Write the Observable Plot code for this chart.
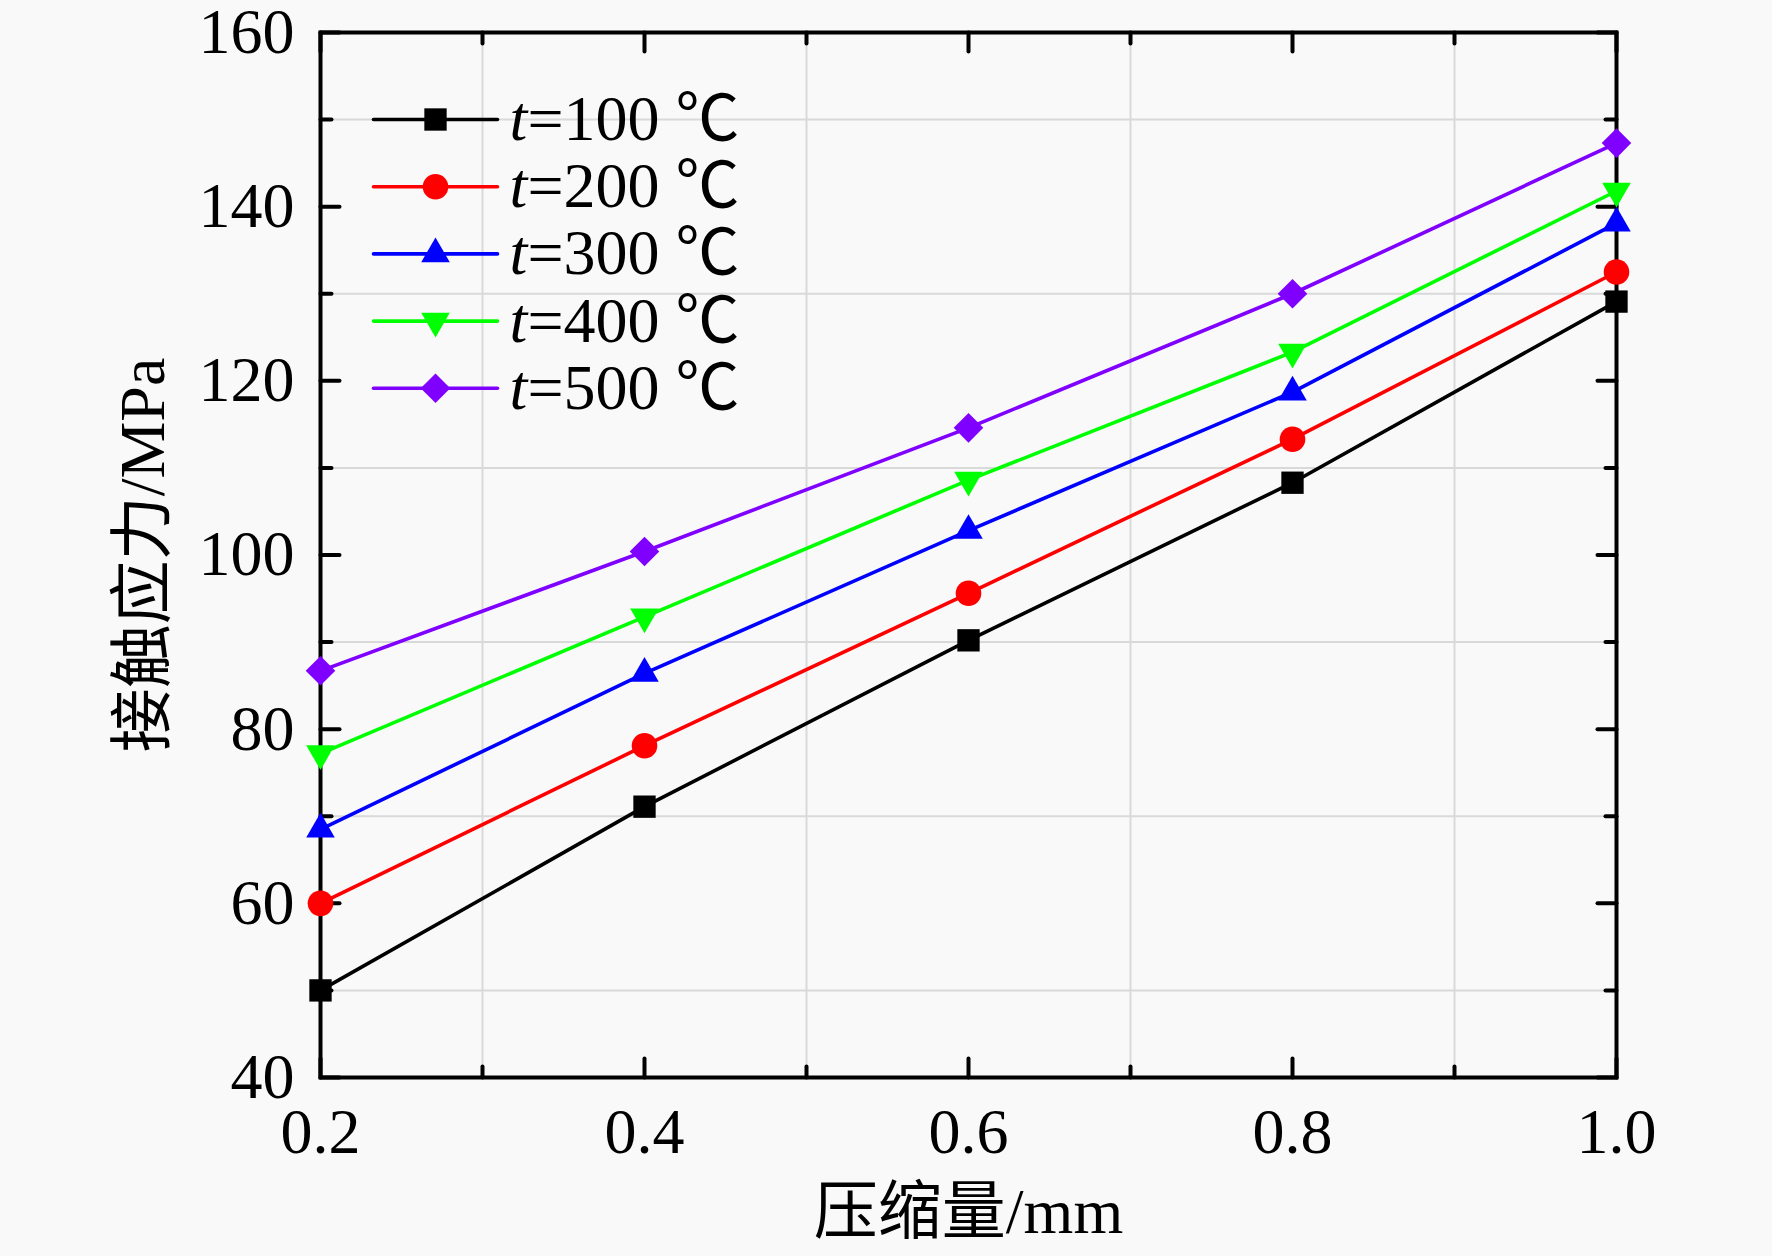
<!DOCTYPE html>
<html>
<head>
<meta charset="utf-8">
<script src="https://cdn.jsdelivr.net/npm/d3@7"></script>
<script src="https://cdn.jsdelivr.net/npm/@observablehq/plot@0.6"></script>
<style>
  html, body { margin: 0; padding: 0; background: #f9f9f9; }
  #chart svg { display: block; }
</style>
</head>
<body>
<div id="chart"></div>
<script>
// ---- data ----
const compression = [0.2, 0.4, 0.6, 0.8, 1.0];           // 压缩量/mm
const temperatures = [100, 200, 300, 400, 500];          // t (℃)
const stress100 = [50.0, 71.1, 90.2, 108.3, 129.1];
const stress200 = [60.0, 78.1, 95.6, 113.3, 132.5];
const stress300 = [68.5, 86.4, 102.8, 118.7, 138.1];
const stress400 = [77.2, 92.9, 108.6, 123.3, 141.8];
const stress500 = [86.7, 100.4, 114.6, 130.0, 147.3];
const seriesValues = [stress100, stress200, stress300, stress400, stress500];
const xMajorTicks = [0.2, 0.4, 0.6, 0.8, 1.0];
const xMinorTicks = [0.3, 0.5, 0.7, 0.9];
const yMajorTicks = [40, 60, 80, 100, 120, 140, 160];
const yMinorTicks = [50, 70, 90, 110, 130, 150];
const xTitle = "压缩量/mm";
const yTitle = "接触应力/MPa";

// ---- styles ----
const colors = ["#000000", "#ff0000", "#0000ff", "#00ff00", "#8000ff"];
const symbols = ["square", "circle", "triangle", "triangle", "square"];
const rotations = [0, 0, 0, 180, 45];
const radii = [12.6, 12.8, 10.6, 10.6, 11.8];
const FONT = "'Liberation Serif', 'Times New Roman', 'Noto Sans CJK SC', serif";
const FS = 64;

const rows = [];
temperatures.forEach((t, i) => {
  compression.forEach((x, j) => rows.push({t, x, y: seriesValues[i][j]}));
});

const lineShape = {draw(context, l) { context.moveTo(0, 0); context.lineTo(0, -l); }};

const marks = [
  Plot.gridX(xMinorTicks, {stroke: "#d9d9d9", strokeOpacity: 1, strokeWidth: 2}),
  Plot.gridY(yMinorTicks, {stroke: "#d9d9d9", strokeOpacity: 1, strokeWidth: 2}),
  Plot.frame({stroke: "#000", strokeWidth: 4}),
  // inward ticks on all four sides
  Plot.vector(xMajorTicks, {x: d => d, y: 40, length: 19, rotate: 0, anchor: "start", shape: lineShape, stroke: "#000", strokeWidth: 4}),
  Plot.vector(xMinorTicks, {x: d => d, y: 40, length: 11, rotate: 0, anchor: "start", shape: lineShape, stroke: "#000", strokeWidth: 4}),
  Plot.vector(xMajorTicks, {x: d => d, y: 160, length: 19, rotate: 180, anchor: "start", shape: lineShape, stroke: "#000", strokeWidth: 4}),
  Plot.vector(xMinorTicks, {x: d => d, y: 160, length: 11, rotate: 180, anchor: "start", shape: lineShape, stroke: "#000", strokeWidth: 4}),
  Plot.vector(yMajorTicks, {y: d => d, x: 0.2, length: 19, rotate: 90, anchor: "start", shape: lineShape, stroke: "#000", strokeWidth: 4}),
  Plot.vector(yMinorTicks, {y: d => d, x: 0.2, length: 11, rotate: 90, anchor: "start", shape: lineShape, stroke: "#000", strokeWidth: 4}),
  Plot.vector(yMajorTicks, {y: d => d, x: 1.0, length: 19, rotate: -90, anchor: "start", shape: lineShape, stroke: "#000", strokeWidth: 4}),
  Plot.vector(yMinorTicks, {y: d => d, x: 1.0, length: 11, rotate: -90, anchor: "start", shape: lineShape, stroke: "#000", strokeWidth: 4}),
];

temperatures.forEach((t, i) => {
  const data = rows.filter(d => d.t === t);
  marks.push(Plot.line(data, {x: "x", y: "y", stroke: colors[i], strokeWidth: 3.6}));
  marks.push(Plot.dot(data, {x: "x", y: "y", symbol: symbols[i], r: radii[i], rotate: rotations[i], fill: colors[i], stroke: "none"}));
});

// legend (top-left inside the frame)
temperatures.forEach((t, i) => {
  const dy = 87 + 67.2 * i;
  marks.push(Plot.vector([t], {frameAnchor: "top-left", dx: 53, dy, length: 124, rotate: 90, anchor: "start", shape: lineShape, stroke: colors[i], strokeWidth: 3.6}));
  marks.push(Plot.dot([t], {frameAnchor: "top-left", dx: 115, dy, symbol: symbols[i], r: radii[i], rotate: rotations[i], fill: colors[i], stroke: "none"}));
  marks.push(Plot.text([t], {frameAnchor: "top-left", dx: 189, dy, text: () => "t", fontStyle: "italic", textAnchor: "start", lineAnchor: "middle", fontSize: FS, fill: "#000"}));
  marks.push(Plot.text([t], {frameAnchor: "top-left", dx: 207, dy, text: d => `=${d} ℃`, textAnchor: "start", lineAnchor: "middle", fontSize: FS, fill: "#000"}));
});

marks.push(
  Plot.axisX({ticks: xMajorTicks, anchor: "bottom", tickSize: 0, tickPadding: 30, tickFormat: d3.format(".1f"), fontSize: FS, label: null, fill: "#000"}),
  Plot.axisY({ticks: yMajorTicks, anchor: "left", tickSize: 0, tickPadding: 26, tickFormat: d3.format("d"), fontSize: FS, label: null, fill: "#000"}),
  Plot.text([xTitle], {text: d => d, frameAnchor: "bottom", dy: 135, textAnchor: "middle", lineAnchor: "middle", fontSize: FS, fill: "#000"}),
  Plot.text([yTitle], {text: d => d, frameAnchor: "left", dx: -177, rotate: -90, textAnchor: "middle", lineAnchor: "middle", fontSize: FS, fill: "#000"})
);

const chart = Plot.plot({
  width: 1772,
  height: 1256,
  marginLeft: 320,
  marginRight: 156,
  marginTop: 32,
  marginBottom: 179,
  x: {domain: [0.2, 1.0]},
  y: {domain: [40, 160]},
  style: {background: "#f9f9f9", fontFamily: FONT, color: "#000", overflow: "visible"},
  marks
});
document.getElementById("chart").appendChild(chart);
</script>
</body>
</html>
